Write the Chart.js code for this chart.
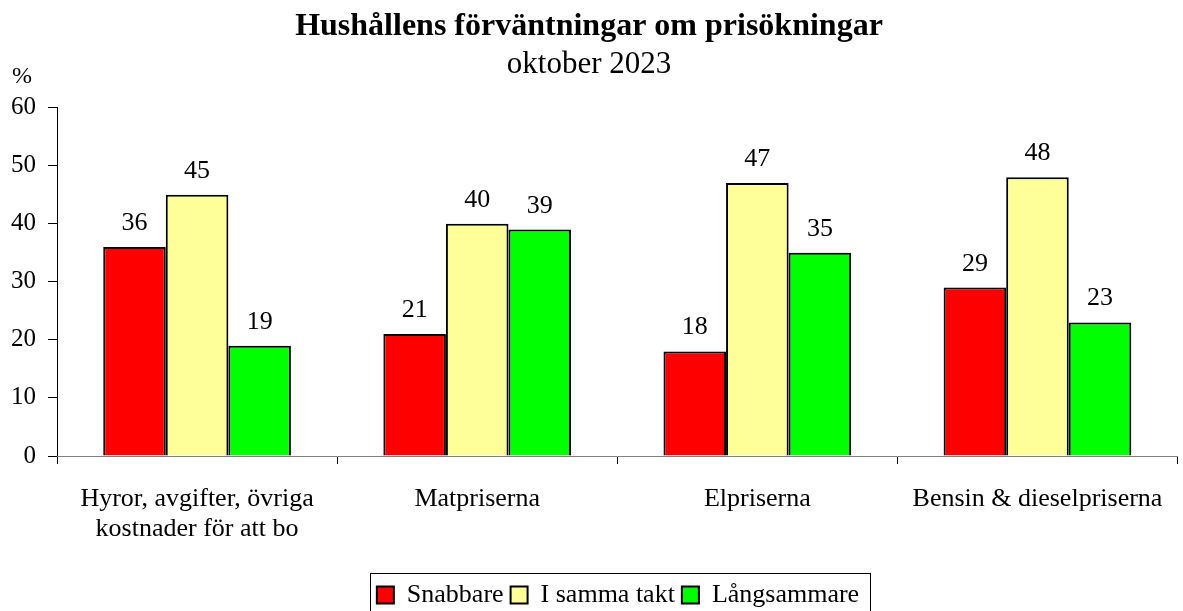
<!DOCTYPE html>
<html>
<head>
<meta charset="utf-8">
<script src="https://cdn.jsdelivr.net/npm/chart.js@4"></script>
<style>
    html, body { margin: 0; padding: 0; background: #fff; }
    #wrap { width: 1183px; height: 611px; }
</style>
</head>
<body>
<div id="wrap"><canvas id="barChart"></canvas></div>
<script>
// data
const categories = [['Hyror, avgifter, övriga', 'kostnader för att bo'], 'Matpriserna', 'Elpriserna', 'Bensin & dieselpriserna'];
const snabbare = [36, 21, 18, 29];
const iSammaTakt = [45, 40, 47, 48];
const langsammare = [19, 39, 35, 23];
const yTicks = [0, 10, 20, 30, 40, 50, 60];

const serif = "'Liberation Serif', 'Times New Roman', serif";

// numbers above bars
const valueLabels = {
    id: 'valueLabels',
    afterDatasetsDraw(chart) {
        const ctx = chart.ctx;
        ctx.save();
        ctx.font = '26px ' + serif;
        ctx.fillStyle = '#000';
        ctx.textAlign = 'center';
        ctx.textBaseline = 'alphabetic';
        chart.data.datasets.forEach((ds, i) => {
            chart.getDatasetMeta(i).data.forEach((bar, j) => {
                ctx.fillText(ds.data[j], bar.x, bar.y - 17);
            });
        });
        ctx.restore();
    }
};

// legend sits a bit right of centre and lower in the original
const moveLegend = {
    id: 'moveLegend',
    afterLayout(chart) {
        const lg = chart.legend;
        const dx = 29, dy = 7;
        lg.left += dx; lg.right += dx;
        lg.top += dy; lg.bottom += dy;
        (lg.legendHitBoxes || []).forEach(b => { b.left += dx; b.top += dy; });
    }
};

// "%" above the y axis and a frame round the legend
const extras = {
    id: 'extras',
    afterDraw(chart) {
        const ctx = chart.ctx;
        ctx.save();
        ctx.font = '24px ' + serif;
        ctx.fillStyle = '#000';
        ctx.textAlign = 'center';
        ctx.textBaseline = 'middle';
        ctx.fillText('%', 22, 77);

        const boxes = chart.legend.legendHitBoxes;
        if (boxes && boxes.length) {
            const first = boxes[0];
            const last = boxes[boxes.length - 1];
            ctx.font = '26px ' + serif;
            const lastText = chart.data.datasets[boxes.length - 1].label;
            const x0 = Math.round(first.left) - 7;
            const x1 = Math.round(last.left + 17 + 13 + ctx.measureText(lastText).width) + 11;
            const y0 = Math.round(first.top + first.height / 2) - 29;
            ctx.strokeStyle = '#000';
            ctx.lineWidth = 1;
            ctx.strokeRect(x0 + 0.5, y0 + 0.5, x1 - x0, 60);
        }
        ctx.restore();
    }
};

const ctx = document.getElementById('barChart');

new Chart(ctx, {
    type: 'bar',
    data: {
        labels: categories,
        datasets: [{
            label: 'Snabbare',
            data: snabbare,
            backgroundColor: '#FF0000',
            borderColor: '#000',
            borderWidth: 2,
            borderSkipped: 'bottom'
        }, {
            label: 'I samma takt',
            data: iSammaTakt,
            backgroundColor: '#FFFF99',
            borderColor: '#000',
            borderWidth: 2,
            borderSkipped: 'bottom'
        }, {
            label: 'Långsammare',
            data: langsammare,
            backgroundColor: '#00FF00',
            borderColor: '#000',
            borderWidth: 2,
            borderSkipped: 'bottom'
        }]
    },
    options: {
        responsive: true,
        maintainAspectRatio: false,
        animation: false,
        categoryPercentage: 0.67,
        barPercentage: 1.0,
        layout: { padding: { left: 0, right: 5, top: 0, bottom: 0 } },
        scales: {
            y: {
                min: 0,
                max: 60,
                afterBuildTicks(axis) {
                    axis.ticks = yTicks.map(v => ({ value: v }));
                },
                afterFit(axis) { axis.width = 57; },
                border: { color: '#000', width: 1 },
                grid: { drawOnChartArea: false, drawTicks: true, tickLength: 9, color: '#000' },
                ticks: { color: '#000', padding: 12, font: { family: serif, size: 25 } }
            },
            x: {
                afterFit(axis) { axis.height = 112; },
                border: { color: '#808080', width: 1 },
                grid: { offset: true, drawOnChartArea: false, drawTicks: true, tickLength: 8, color: '#000' },
                ticks: { color: '#000', padding: 20, maxRotation: 0, font: { family: serif, size: 26, lineHeight: 1.15 } }
            }
        },
        plugins: {
            title: {
                display: true,
                text: 'Hushållens förväntningar om prisökningar',
                color: '#000',
                font: { family: serif, size: 32, weight: 'bold' },
                padding: { top: 8, bottom: 0 }
            },
            subtitle: {
                display: true,
                text: 'oktober 2023',
                color: '#000',
                font: { family: serif, size: 31 },
                padding: { top: 0, bottom: 24 }
            },
            legend: {
                position: 'bottom',
                labels: {
                    color: '#000',
                    boxWidth: 17,
                    boxHeight: 17,
                    padding: 7,
                    font: { family: serif, size: 26 },
                    generateLabels(chart) {
                        return chart.data.datasets.map((ds, i) => ({
                            text: ds.label,
                            fillStyle: ds.backgroundColor,
                            strokeStyle: '#000',
                            lineWidth: 2,
                            datasetIndex: i
                        }));
                    }
                }
            },
            tooltip: { enabled: false }
        }
    },
    plugins: [moveLegend, valueLabels, extras]
});
</script>
</body>
</html>
